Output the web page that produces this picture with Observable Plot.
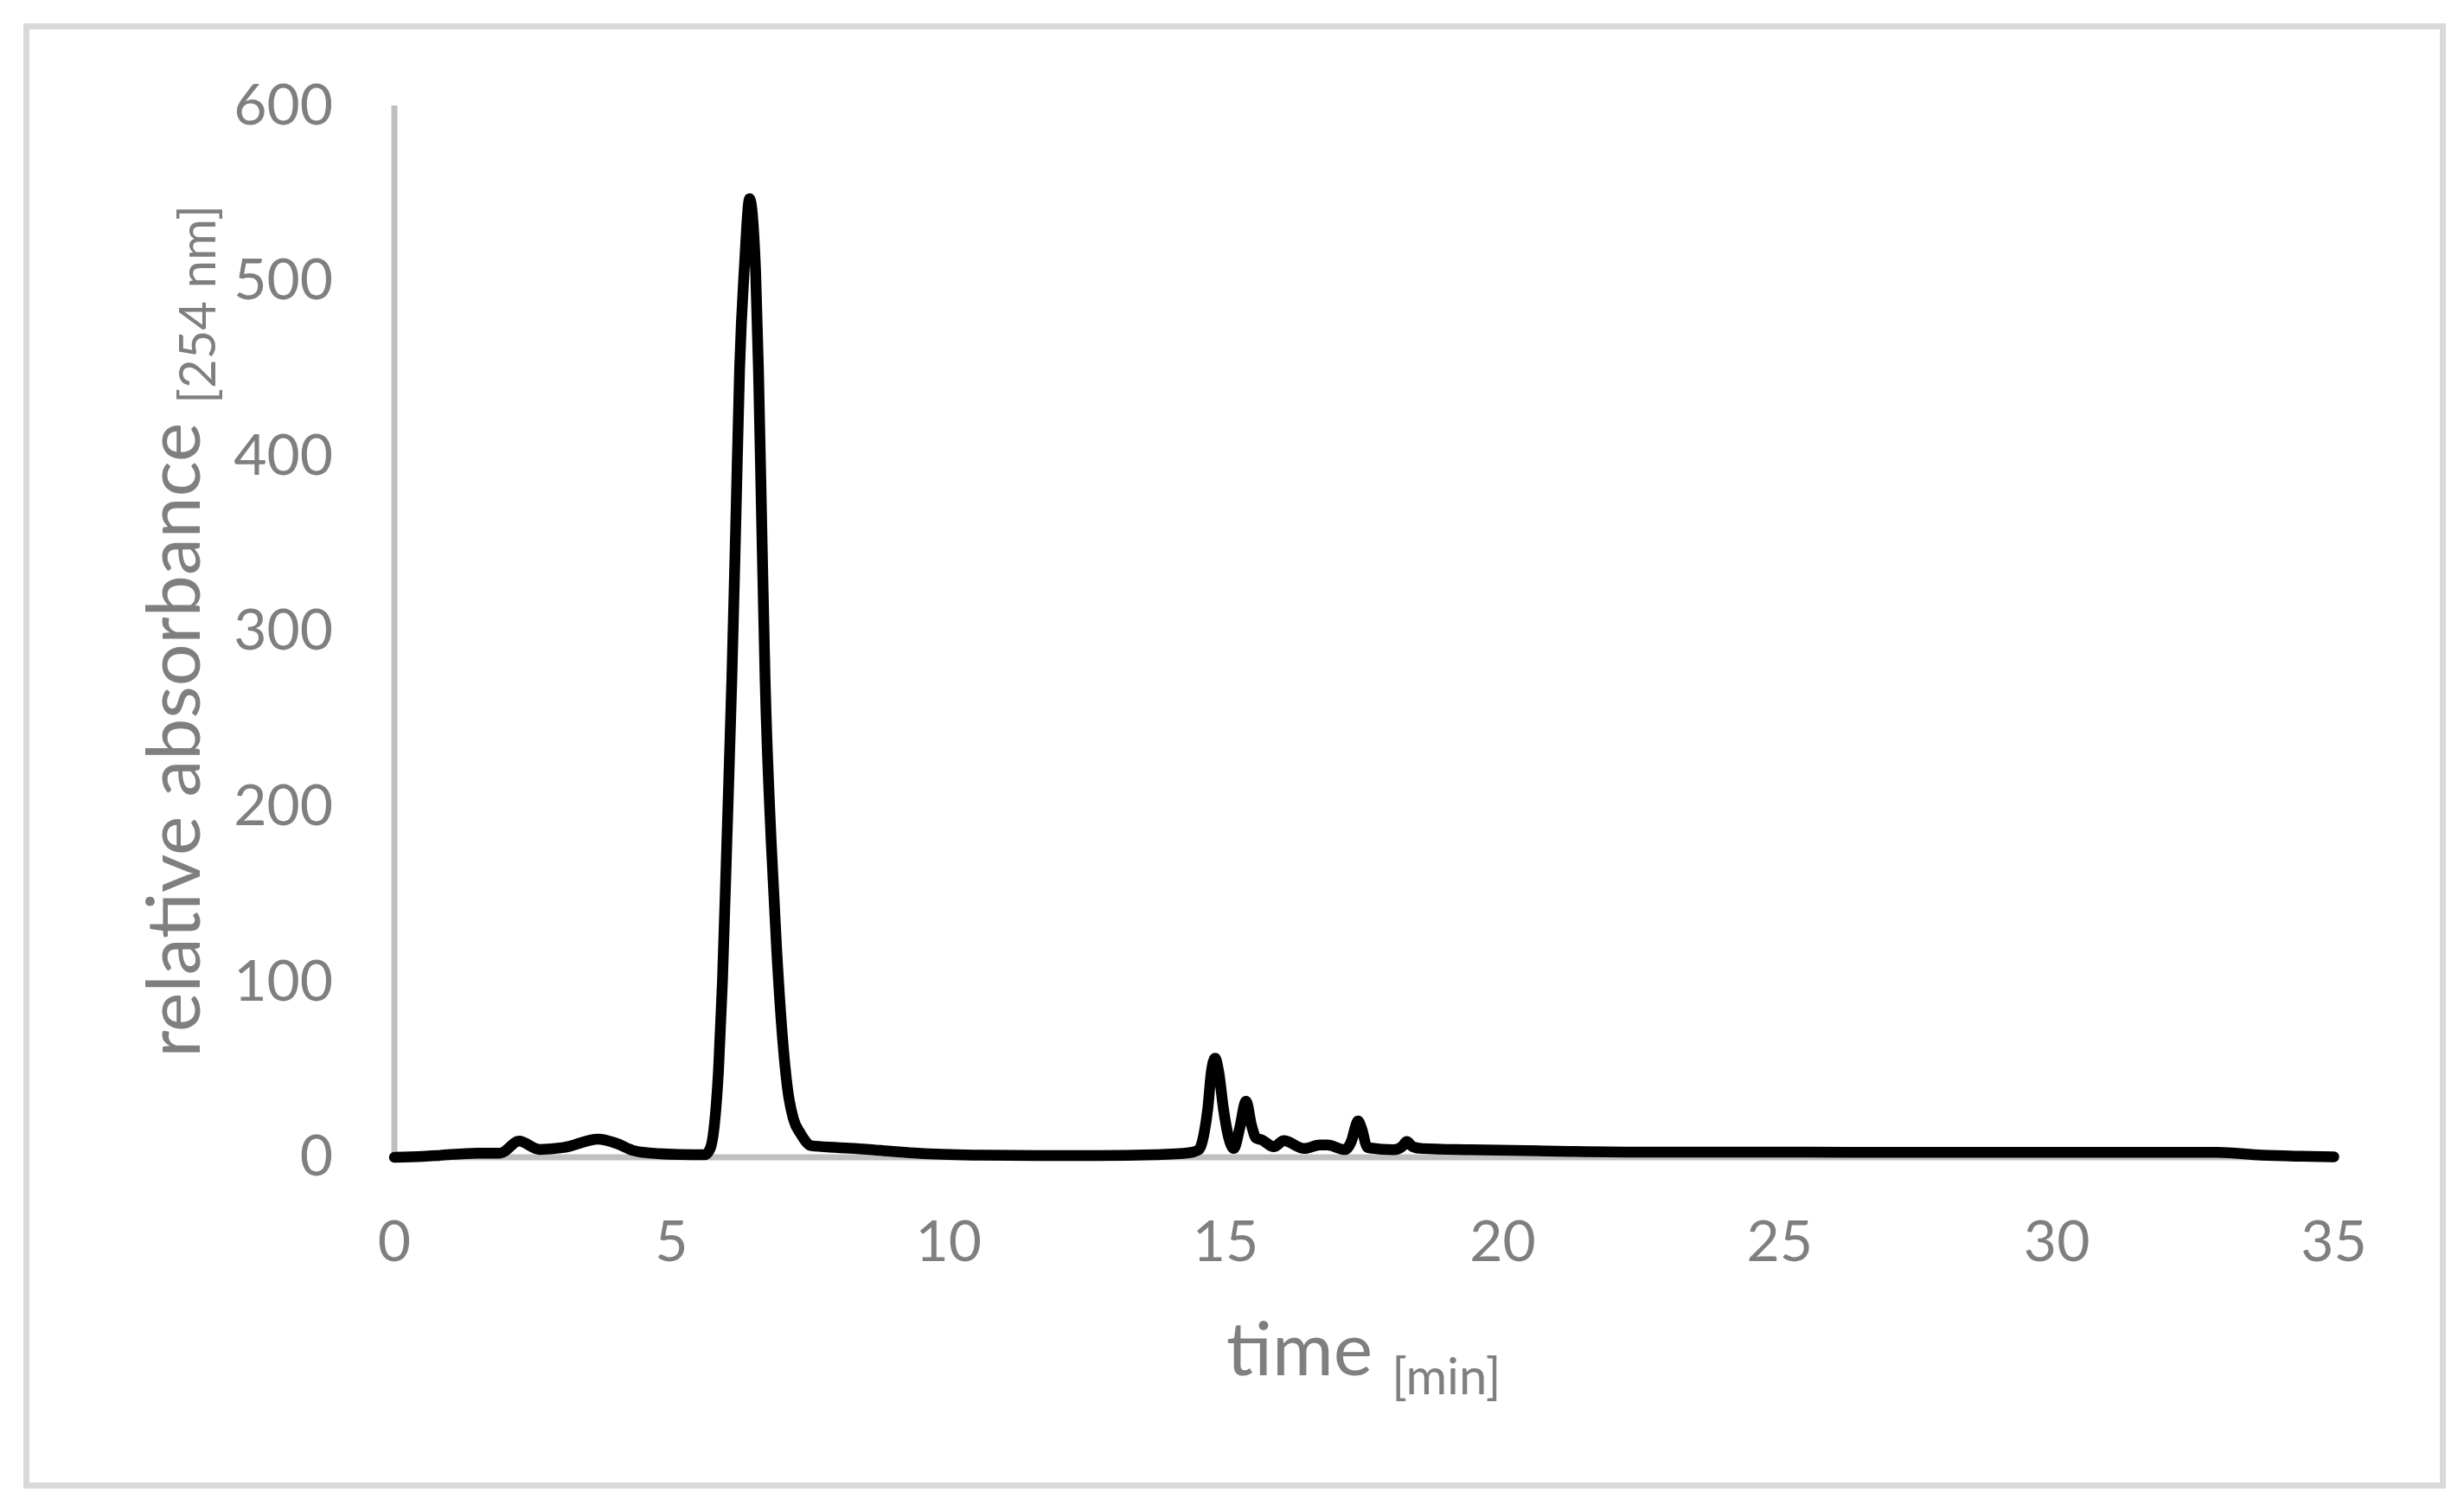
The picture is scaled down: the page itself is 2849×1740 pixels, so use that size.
<!DOCTYPE html>
<html>
<head>
<meta charset="utf-8">
<script src="https://cdn.jsdelivr.net/npm/d3@7"></script>
<script src="https://cdn.jsdelivr.net/npm/@observablehq/plot@0.6"></script>
<style>
  html, body { margin: 0; padding: 0; background: #fff; }
  #wrap { position: relative; width: 2849px; height: 1740px; }
  #border { position: absolute; left: 27px; top: 27px; width: 2801px; height: 1694px;
            box-sizing: border-box; border: 7px solid #d9d9d9; pointer-events: none; }
</style>
</head>
<body>
<div id="wrap"><div id="border"></div></div>
<script>
// Chromatogram trace (time in min, relative absorbance at 254 nm)
const time = [
  0, 0.5, 0.77, 1.5, 1.91, 2.25, 2.62, 3.06, 3.68, 4.0, 4.3, 4.6, 5.14, 5.5,
  5.6, 5.7, 5.78, 5.85, 5.92, 6.0, 6.09, 6.16, 6.23, 6.32, 6.41, 6.52, 6.57, 6.63, 6.69,
  6.8, 6.9, 7.0, 7.1, 7.2, 7.33, 7.53, 8.0, 8.52, 9.0, 9.56, 10.6, 11.64, 12.7, 13.72,
  14.34, 14.5, 14.55, 14.62, 14.68, 14.74, 14.81, 14.88, 14.96, 15.05, 15.15,
  15.25, 15.37, 15.47, 15.55, 15.65, 15.87, 16.05, 16.42, 16.7, 16.84, 17.15,
  17.28, 17.33, 17.39, 17.46, 17.55, 17.61, 18.03, 18.18, 18.27, 18.38, 18.55,
  19.43, 21.0, 22.6, 25.0, 27.5, 30.0, 32.9, 33.7, 34.4, 35.0
];
const absorbance = [
  0, 0.5, 1, 2.4, 2.4, 9.2, 4.5, 5.6, 10.4, 8, 4, 2.5, 1.6, 1.5,
  1.5, 5, 20, 50, 100, 180, 273, 360, 450, 510, 547, 505, 450, 360, 273,
  180, 118, 70, 38, 22, 13.5, 6.6, 5.6, 4.6, 3.3, 2.1, 1.2, 1.0, 1.0, 1.5,
  2.6, 4, 6, 15, 28, 48, 56.5, 48, 28, 12, 5,
  16, 32, 18, 11, 10, 6, 9.5, 5, 7, 7, 4.4,
  10, 16, 20.7, 16, 6, 5.3, 4.3, 6, 9, 6, 5,
  4.3, 3.5, 3, 3, 2.8, 2.8, 2.8, 1.2, 0.6, 0.3
];
const xTicks = [0, 5, 10, 15, 20, 25, 30, 35];
const yTicks = [0, 100, 200, 300, 400, 500, 600];
const xTitle = "time", xUnit = "[min]";
const yTitle = "relative absorbance", yUnit = "[254 nm]";

const data = time.map((t, i) => ({t, v: absorbance[i]}));

const W = 2849, H = 1740;
const mL = 455.5, mR = 151, mT = 122, mB = 402.5;

const chart = Plot.plot({
  width: W, height: H,
  marginLeft: mL, marginRight: mR, marginTop: mT, marginBottom: mB,
  style: {fontFamily: "Lato, 'Open Sans', sans-serif", fontSize: "66px", color: "#7f7f7f", background: "transparent"},
  x: {domain: [0, 35]},
  y: {domain: [0, 600]},
  marks: [
    Plot.ruleX([0], {stroke: "#bfbfbf", strokeWidth: 7}),
    Plot.ruleY([0], {stroke: "#bfbfbf", strokeWidth: 7}),
    Plot.axisX({ticks: xTicks, tickSize: 0, tickPadding: 73, fontSize: 66, label: null, tickFormat: d => String(d)}),
    Plot.axisY({ticks: yTicks, tickSize: 0, tickPadding: 71, fontSize: 66, label: null, tickFormat: d => String(d)}),
    Plot.line(data, {x: "t", y: "v", stroke: "#000", strokeWidth: 12.5, curve: "monotone-x",
                     strokeLinejoin: "round", strokeLinecap: "round"})
  ]
});

const wrap = document.getElementById("wrap");
chart.style.position = "absolute";
chart.style.left = "0px";
chart.style.top = "0px";
wrap.insertBefore(chart, wrap.firstChild);

// Axis titles with subscript units
const svg = d3.select(chart);
const xc = (mL + (W - mR)) / 2;
const yc = (mT + (H - mB)) / 2;

const xt = svg.append("text")
  .attr("x", xc).attr("y", 1590)
  .attr("text-anchor", "middle")
  .attr("fill", "#7f7f7f")
  .style("font-family", "Lato, 'Open Sans', sans-serif");
xt.append("tspan").attr("font-size", 86).text(xTitle + " ");
xt.append("tspan").attr("font-size", 58).attr("dy", 22).text(xUnit);

const yt = svg.append("text")
  .attr("transform", `translate(231,${yc}) rotate(-90)`)
  .attr("text-anchor", "middle")
  .attr("fill", "#7f7f7f")
  .style("font-family", "Lato, 'Open Sans', sans-serif");
yt.append("tspan").attr("font-size", 86).text(yTitle + " ");
yt.append("tspan").attr("font-size", 58).attr("dy", 18).text(yUnit);
</script>
</body>
</html>
